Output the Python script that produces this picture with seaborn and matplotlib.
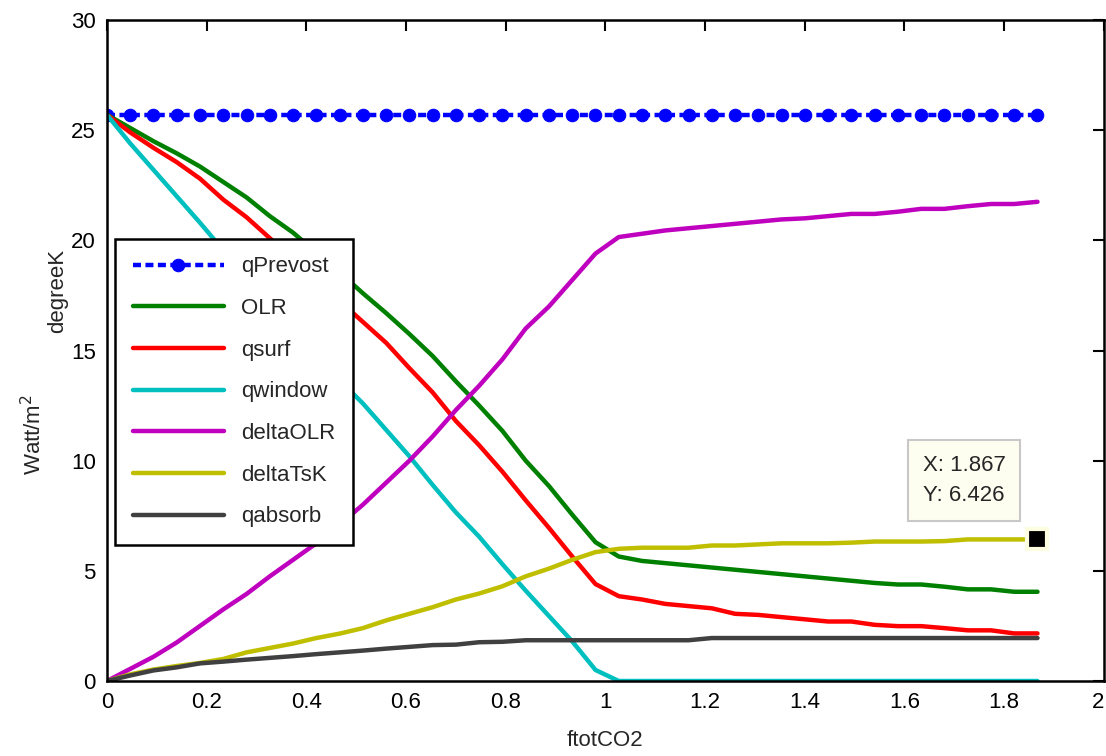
import numpy as np
import pandas as pd
import seaborn as sns
import matplotlib.pyplot as plt

sns.set_theme(style='white')
plt.rcParams['font.family'] = ['Liberation Sans', 'DejaVu Sans']

# ftotCO2 sample points (41 points, 0 .. 1.867)
ftotCO2 = np.linspace(0, 1.867, 41)

qPrevost = [25.7] * 41
OLR = [25.7, 25.1, 24.5, 23.95, 23.35, 22.65, 21.95, 21.1, 20.35, 19.45,
       18.55, 17.6, 16.7, 15.75, 14.75, 13.6, 12.5, 11.35, 10.0, 8.85,
       7.55, 6.3, 5.65, 5.45, 5.35, 5.25, 5.15, 5.05, 4.95, 4.85,
       4.75, 4.65, 4.55, 4.45, 4.38, 4.38, 4.28, 4.16, 4.16, 4.05, 4.05]
qsurf = [25.7, 24.9, 24.2, 23.55, 22.8, 21.85, 21.05, 20.1, 19.15, 18.2,
         17.25, 16.3, 15.35, 14.2, 13.1, 11.8, 10.7, 9.5, 8.2, 6.95,
         5.65, 4.4, 3.85, 3.7, 3.5, 3.4, 3.3, 3.05, 3.0, 2.9,
         2.8, 2.7, 2.7, 2.55, 2.49, 2.49, 2.4, 2.3, 2.3, 2.16, 2.16]
qwindow = [25.7, 24.4, 23.2, 22.0, 20.8, 19.55, 18.35, 17.15, 15.95, 14.8,
           13.65, 12.6, 11.4, 10.2, 8.9, 7.65, 6.55, 5.3, 4.1, 2.95,
           1.8, 0.5, 0, 0, 0, 0, 0, 0, 0, 0,
           0, 0, 0, 0, 0, 0, 0, 0, 0, 0, 0]
deltaOLR = [0, 0.55, 1.1, 1.75, 2.5, 3.25, 3.95, 4.75, 5.5, 6.25,
            7.1, 8.0, 9.0, 10.0, 11.1, 12.3, 13.4, 14.6, 16.0, 17.0,
            18.2, 19.4, 20.15, 20.3, 20.45, 20.55, 20.65, 20.75, 20.85, 20.95,
            21.0, 21.1, 21.2, 21.2, 21.3, 21.43, 21.43, 21.55, 21.65, 21.65, 21.75]
deltaTsK = [0, 0.3, 0.52, 0.68, 0.82, 1.0, 1.3, 1.5, 1.7, 1.95,
            2.15, 2.4, 2.75, 3.05, 3.35, 3.7, 3.97, 4.3, 4.75, 5.1,
            5.5, 5.85, 6.0, 6.05, 6.05, 6.05, 6.15, 6.15, 6.2, 6.25,
            6.25, 6.25, 6.28, 6.33, 6.33, 6.33, 6.35, 6.426, 6.426, 6.426, 6.426]
qabsorb = [0, 0.25, 0.48, 0.62, 0.8, 0.88, 0.97, 1.05, 1.13, 1.22,
           1.3, 1.38, 1.47, 1.55, 1.63, 1.65, 1.76, 1.78, 1.85, 1.85,
           1.85, 1.85, 1.85, 1.85, 1.85, 1.85, 1.95, 1.95, 1.95, 1.95,
           1.95, 1.95, 1.95, 1.95, 1.95, 1.95, 1.95, 1.95, 1.95, 1.95, 1.95]

series = {
    'OLR': (OLR, (0, 0.5, 0)),
    'qsurf': (qsurf, (1, 0, 0)),
    'qwindow': (qwindow, (0, 0.75, 0.75)),
    'deltaOLR': (deltaOLR, (0.75, 0, 0.75)),
    'deltaTsK': (deltaTsK, (0.75, 0.75, 0)),
    'qabsorb': (qabsorb, (0.25, 0.25, 0.25)),
}

fig = plt.figure(figsize=(11.06, 7.56), dpi=100)
ax = fig.add_axes([0.0967, 0.0992, 0.9013, 0.8743])

sns.lineplot(x=ftotCO2, y=qPrevost, ax=ax, color=(0, 0, 1), lw=3.2,
             linestyle=(0, (1.8, 1.0)), marker='o', markersize=9,
             markeredgecolor=(0, 0, 1), label='qPrevost')
for name, (vals, col) in series.items():
    sns.lineplot(x=ftotCO2, y=vals, ax=ax, color=col, lw=3.2, label=name)

ax.set_xlim(0, 2)
ax.set_ylim(0, 30)
ax.set_xticks(np.arange(0, 2.01, 0.2))
ax.set_xticklabels(['0', '0.2', '0.4', '0.6', '0.8', '1', '1.2', '1.4', '1.6', '1.8', '2'])
ax.get_xticklabels()[-1].set_horizontalalignment('right')
ax.set_yticks(range(0, 31, 5))
ax.tick_params(direction='in', length=8, width=1.5, top=True, right=True,
               labelsize=16, pad=8, colors='black')
for sp in ax.spines.values():
    sp.set_color('black')
    sp.set_linewidth(1.8)

ax.set_xlabel('ftotCO2', fontsize=16, labelpad=12)
fig.text(0.030, 0.425, 'Watt/m$^2$', rotation=90, fontsize=16, ha='center', va='center')
fig.text(0.052, 0.615, 'degreeK', rotation=90, fontsize=16, ha='center', va='center')

leg = ax.legend(loc='upper left', bbox_to_anchor=(-0.003, 0.686), fontsize=16,
                handlelength=4.1, labelspacing=0.93, borderpad=0.8,
                handletextpad=0.75, borderaxespad=0.5, fancybox=False,
                framealpha=1, edgecolor='black')
leg.get_frame().set_linewidth(1.8)

# data tip
ax.plot([ftotCO2[-1]], [deltaTsK[-1]], marker='s', markersize=15, color='black',
        markeredgecolor='#fdfde0', markeredgewidth=3, zorder=5)
ax.text(1.72, 9.1, 'X: 1.867\nY: 6.426', fontsize=16, linespacing=1.6,
        va='center', ha='center',
        bbox=dict(boxstyle='square,pad=0.65', fc='#fefef0', ec='#c8c8c8', lw=1.5))

fig.savefig('out.png', dpi=100, facecolor='white')
